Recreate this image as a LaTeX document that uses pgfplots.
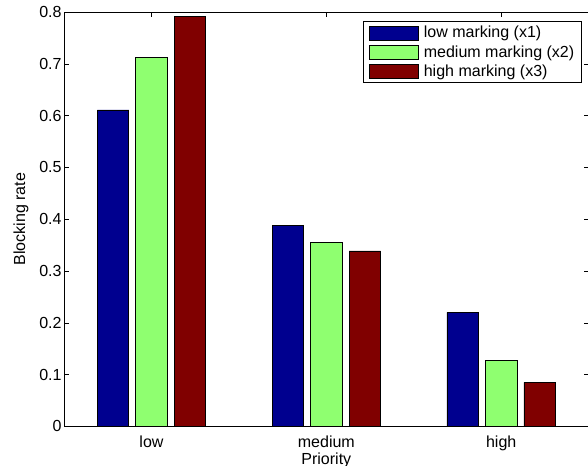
\documentclass[border=0pt]{standalone}
\usepackage{fontspec}
\setmainfont{Liberation Sans}
\usepackage{pgfplots}
\pgfplotsset{compat=1.18}

\definecolor{barblue}{rgb}{0,0,0.5625}
\definecolor{bargreen}{rgb}{0.5625,1,0.4375}
\definecolor{barred}{rgb}{0.5,0,0}

\pgfplotsset{
  mbar/.style={ybar, bar width=0.18, draw=black, line width=0.6pt,
    legend image code/.code={\draw[##1] (0pt,-7pt) rectangle (49pt,7pt);}},
}

\begin{document}
\begin{tikzpicture}
\begin{axis}[
  name=ax,
  scale only axis, width=524pt, height=414pt,
  xmin=0.5, xmax=3.5, ymin=0, ymax=0.8,
  xtick={1,2,3}, xticklabels={low,medium,high},
  ytick={0,0.1,0.2,0.3,0.4,0.5,0.6,0.7,0.8},
  /pgf/number format/assume math mode=true,
  yticklabel style={/pgf/number format/fixed, /pgf/number format/precision=1, font=\fontsize{16}{19}\selectfont, xshift=1pt},
  xticklabel style={font=\fontsize{16}{19}\selectfont, anchor=base, yshift=-21pt},
  tick align=inside, major tick length=5pt,
  tick style={black, line width=0.6pt},
  axis line style={line width=0.9pt},
  xlabel={Priority}, ylabel={Blocking rate},
  xlabel style={font=\fontsize{16}{19}\selectfont, at={(axis description cs:0.5,-0.0821)}, anchor=center},
  ylabel style={font=\fontsize{16}{19}\selectfont, at={(axis description cs:-0.082,0.5)}, anchor=center},
  legend style={at={(1,1)}, anchor=north east, xshift=-7pt, yshift=-9pt,
    draw=black, line width=0.7pt, inner xsep=6pt, inner ysep=4pt, row sep=4pt,
    font=\fontsize{16}{19}\selectfont,
    nodes={inner sep=1pt},
    /tikz/every odd column/.append style={column sep=4pt}},
  legend cell align=left,
]
\addplot[mbar, bar shift=-0.22, fill=barblue] coordinates {(1,0.611) (2,0.388) (3,0.220)};
\addplot[mbar, bar shift=0, fill=bargreen] coordinates {(1,0.713) (2,0.355) (3,0.128)};
\addplot[mbar, bar shift=0.22, fill=barred] coordinates {(1,0.792) (2,0.339) (3,0.085)};
\legend{low marking (x1), medium marking (x2), high marking (x3)}
\end{axis}
\pgfresetboundingbox
\useasboundingbox ([xshift=-64pt,yshift=-39pt]ax.south west) rectangle ([xshift=-0.6pt,yshift=12pt]ax.north east);
\end{tikzpicture}
\end{document}
